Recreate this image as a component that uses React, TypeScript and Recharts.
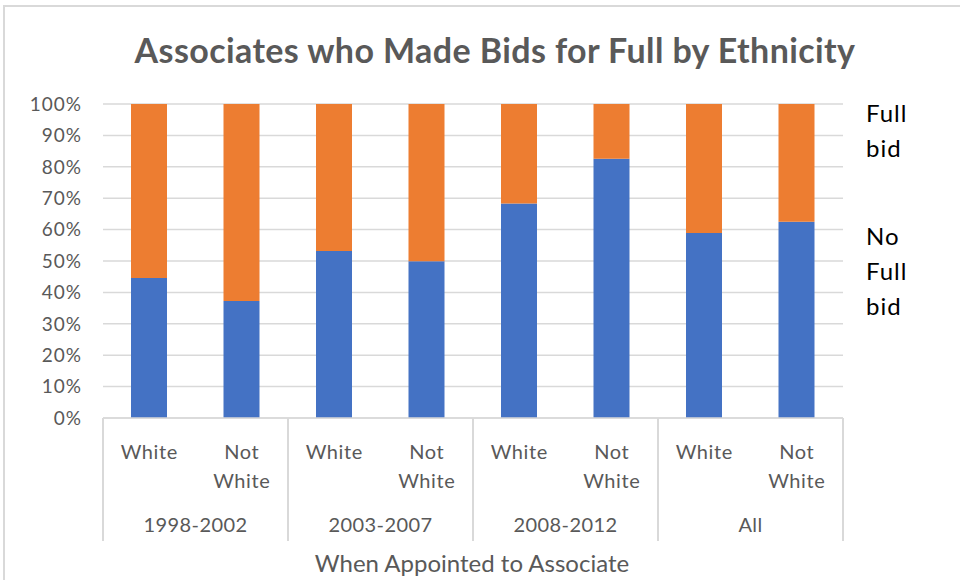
import React from 'react';
import { BarChart, Bar, XAxis, YAxis, CartesianGrid } from 'recharts';

const ethnicity = ['White', 'Not White', 'White', 'Not White', 'White', 'Not White', 'White', 'Not White'];
const periods = ['1998-2002', '1998-2002', '2003-2007', '2003-2007', '2008-2012', '2008-2012', 'All', 'All'];
const noFullBid = [44.6, 37.3, 53.2, 49.9, 68.3, 82.6, 58.9, 62.5];
const fullBid = [55.4, 62.7, 46.8, 50.1, 31.7, 17.4, 41.1, 37.5];
const yTicks = [0, 10, 20, 30, 40, 50, 60, 70, 80, 90, 100];

const data = ethnicity.map((e, i) => ({
  key: `${periods[i]}|${e}|${i}`,
  eth: e,
  period: periods[i],
  noFull: noFullBid[i],
  full: fullBid[i],
}));

const FONT = 'Lato, "Open Sans", sans-serif';
const GREY = '#595959';
const LINE = '#d9d9d9';

// two-level category axis: bar label, group label, and group dividers
function CategoryTick(props: any) {
  const { x, y, index } = props;
  const band = 92.5;
  const row = data[index];
  const words = row.eth.split(' ');
  const left = x - band / 2;
  const txt = { textAnchor: 'middle' as const, dominantBaseline: 'central' as const, fill: GREY, fontSize: 20, fontFamily: FONT, letterSpacing: 0.6 };
  return (
    <g>
      <text x={x} y={y + 33} {...txt}>{words[0]}</text>
      {words[1] && <text x={x} y={y + 62} {...txt}>{words[1]}</text>}
      {index % 2 === 0 && <line x1={left} y1={y} x2={left} y2={y + 123} stroke={LINE} strokeWidth={2} />}
      {index % 2 === 1 && <text x={left} y={y + 106} {...txt} letterSpacing={0.4}>{row.period}</text>}
      {index === data.length - 1 && (
        <line x1={x + band / 2} y1={y} x2={x + band / 2} y2={y + 123} stroke={LINE} strokeWidth={2} />
      )}
    </g>
  );
}

export default function App() {
  return (
    <div style={{ position: 'absolute', left: 0, top: 0, width: 960, height: 580, background: '#fff', overflow: 'hidden', fontFamily: FONT }}>
      <div style={{ position: 'absolute', left: 3, top: 5, width: 1000, height: 1000, borderLeft: `2px solid ${LINE}`, borderTop: `2px solid ${LINE}` }} />
      <div style={{ position: 'absolute', left: 0, top: 27, width: 990, textAlign: 'center', fontSize: 34, fontWeight: 700, color: GREY, lineHeight: '46px', letterSpacing: 0.4 }}>
        Associates who Made Bids for Full by Ethnicity
      </div>
      <div style={{ position: 'absolute', left: 0, top: 0 }}>
        <BarChart width={960} height={580} data={data} margin={{ top: 104, right: 117, bottom: 0, left: 43 }} barSize={36}>
          <CartesianGrid horizontal vertical={false} stroke={LINE} strokeWidth={1.5} />
          <XAxis
            dataKey="key"
            height={162}
            interval={0}
            tickSize={0}
            tickMargin={0}
            axisLine={{ stroke: LINE, strokeWidth: 1.5 }}
            tickLine={false}
            tick={<CategoryTick />}
          />
          <YAxis
            width={60}
            domain={[0, 100]}
            ticks={yTicks}
            interval={0}
            tickSize={0}
            tickMargin={21}
            axisLine={false}
            tickLine={false}
            tickFormatter={(v: number) => `${v}%`}
            tick={{ fill: GREY, fontSize: 19, fontFamily: FONT, letterSpacing: 1 }}
          />
          <Bar dataKey="noFull" stackId="a" fill="#4472C4" isAnimationActive={false} />
          <Bar dataKey="full" stackId="a" fill="#ED7D31" isAnimationActive={false} />
        </BarChart>
      </div>
      <div style={{ position: 'absolute', left: 0, top: 548, width: 944, textAlign: 'center', fontSize: 24, color: GREY, lineHeight: '30px' }}>
        When Appointed to Associate
      </div>
      <div style={{ position: 'absolute', left: 866, top: 95, fontSize: 24, color: '#000', lineHeight: '35px', letterSpacing: 1 }}>
        Full<br />bid
      </div>
      <div style={{ position: 'absolute', left: 866, top: 218, fontSize: 24, color: '#000', lineHeight: '35px', letterSpacing: 1 }}>
        No<br />Full<br />bid
      </div>
    </div>
  );
}
